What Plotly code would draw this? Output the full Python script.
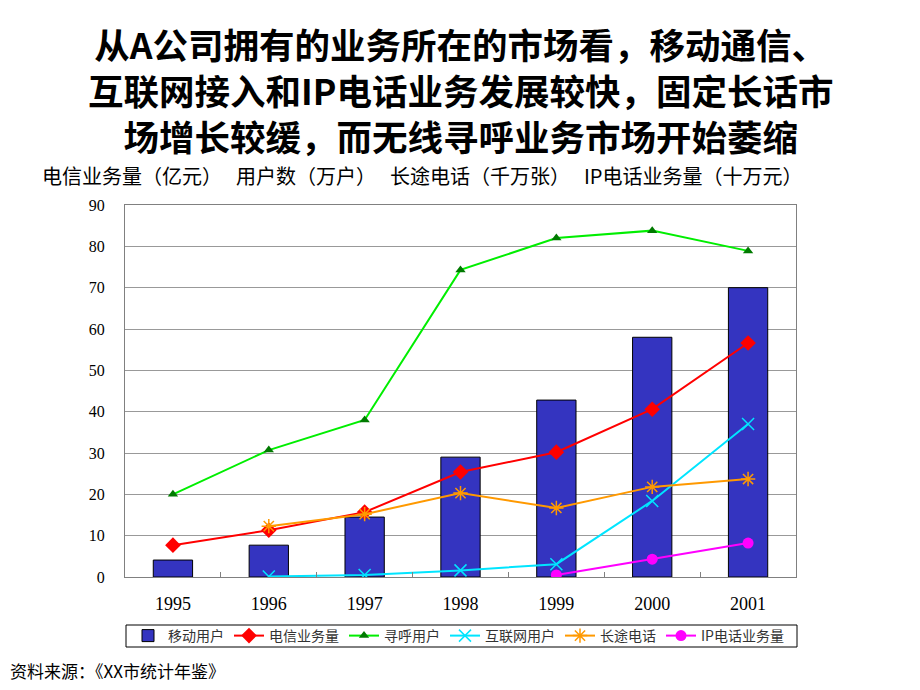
import plotly.graph_objects as go

years = ["1995", "1996", "1997", "1998", "1999", "2000", "2001"]
mobile_users = [4.1, 7.7, 14.5, 29.0, 42.8, 58.0, 70.0]
telecom_volume = [7.7, 11.3, 15.7, 25.4, 30.2, 40.6, 56.6]
pager_users = [20.0, 30.7, 38.0, 74.3, 82.0, 83.8, 78.9]
internet_users = [None, 0.1, 0.5, 1.6, 3.1, 18.4, 37.0]
long_distance = [None, 12.3, 15.2, 20.3, 16.7, 21.8, 23.7]
ip_volume = [None, None, None, None, 0.5, 4.3, 8.2]
y_ticks = [0, 10, 20, 30, 40, 50, 60, 70, 80, 90]

title_lines = ["从A公司拥有的业务所在的市场看，移动通信、",
               "互联网接入和IP电话业务发展较快，固定长话市",
               "场增长较缓，而无线寻呼业务市场开始萎缩"]
subtitle = "电信业务量（亿元）\u2002\u2009用户数（万户）\u2002\u2009长途电话（千万张）\u2002\u2009IP电话业务量（十万元）"
source = "资料来源：《XX市统计年鉴》"

CJK = "Noto Sans CJK SC"
SERIF = "Liberation Serif, Noto Sans CJK SC"

fig = go.Figure()
fig.add_trace(go.Bar(x=years, y=mobile_users, name="移动用户", width=0.41,
                     marker=dict(color="#3434c0", line=dict(color="#000000", width=1))))
fig.add_trace(go.Scatter(x=years, y=telecom_volume, name="电信业务量", mode="lines+markers",
                         line=dict(color="#ff0000", width=2),
                         marker=dict(symbol="diamond", size=12, color="#ff0000")))
fig.add_trace(go.Scatter(x=years, y=pager_users, name="寻呼用户", mode="lines+markers",
                         line=dict(color="#00ee00", width=2),
                         marker=dict(symbol="triangle-up", size=9, color="#007a00")))
fig.add_trace(go.Scatter(x=years, y=internet_users, name="互联网用户", mode="lines+markers",
                         line=dict(color="#00e5ff", width=2),
                         marker=dict(symbol="x-thin-open", size=12, color="#00e5ff",
                                     line=dict(color="#00e5ff", width=1.5))))
fig.add_trace(go.Scatter(x=years, y=long_distance, name="长途电话", mode="lines+markers",
                         line=dict(color="#ff9900", width=2),
                         marker=dict(symbol="asterisk-open", size=12, color="#ff9900",
                                     line=dict(color="#ff9900", width=1.5))))
fig.add_trace(go.Scatter(x=years, y=ip_volume, name="IP电话业务量", mode="lines+markers",
                         line=dict(color="#ff00ff", width=2),
                         marker=dict(symbol="circle", size=11, color="#ff00ff")))

# page pixel positions (page is offset 8px by body margin)
OFF = 8
L, T = 125 - OFF, 205 - OFF
W, H = 671, 372
R = 920 - L - W
B = 690 - T - H
def px(x):
    return (x - OFF - L) / W
def py(y):
    return (T + H - (y - OFF)) / H

annotations = [
    dict(text="<br>".join("<b>" + t + "</b>" for t in title_lines), x=px(460), y=py(89),
         xref="paper", yref="paper", showarrow=False, xanchor="center", yanchor="middle",
         align="center", font=dict(family=CJK, size=35.5, color="#000000")),
    dict(text=subtitle, x=px(40), y=py(175), xref="paper", yref="paper",
         xanchor="left", yanchor="middle", showarrow=False,
         font=dict(family=CJK, size=20, color="#000000")),
    dict(text=source, x=px(8), y=py(670), xref="paper", yref="paper",
         xanchor="left", yanchor="middle", showarrow=False,
         font=dict(family=CJK, size=17, color="#000000")),
]

fig.update_layout(
    width=920, height=690,
    margin=dict(l=L, r=R, t=T, b=B),
    paper_bgcolor="#ffffff", plot_bgcolor="#ffffff",
    showlegend=True,
    legend=dict(orientation="h", x=px(128), y=py(636), xanchor="left", yanchor="middle",
                font=dict(family=CJK, size=14, color="#333333"),
                bgcolor="rgba(0,0,0,0)", itemwidth=30, tracegroupgap=0),
    annotations=annotations,
    shapes=[dict(type="rect", xref="paper", yref="paper", x0=px(126), x1=px(797),
                 y0=py(625), y1=py(647), line=dict(color="#000000", width=1))],
    bargap=0.59,
)
fig.update_xaxes(type="category", showline=True, linecolor="#808080", linewidth=1, mirror=True,
                 ticks="inside", tickson="boundaries", ticklen=5, tickcolor="#808080",
                 showgrid=False, tickfont=dict(family=SERIF, size=18, color="#000000"),
                 ticklabelstandoff=10)
fig.update_yaxes(range=[0, 90], tickvals=y_ticks, showline=True, linecolor="#808080", linewidth=1,
                 mirror=True, showgrid=True, gridcolor="#999999", gridwidth=1, zeroline=False,
                 ticks="", tickfont=dict(family=SERIF, size=16, color="#000000"),
                 ticklabelstandoff=16)

fig.write_html("out.html")
